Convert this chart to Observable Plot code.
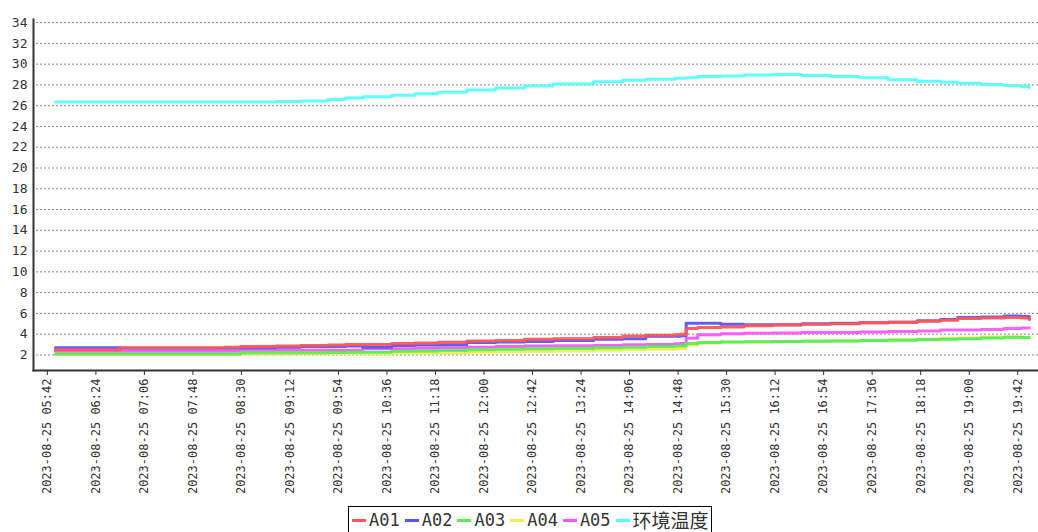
<!DOCTYPE html>
<html><head><meta charset="utf-8">
<script src="https://cdn.jsdelivr.net/npm/d3@7"></script>
<script src="https://cdn.jsdelivr.net/npm/@observablehq/plot@0.6"></script>
<style>
body{margin:0;background:#fff;width:1038px;height:532px;overflow:hidden;position:relative;}
#chart{position:absolute;left:0;top:0;}
#legend{position:absolute;left:348px;top:506px;height:34px;border:1px solid #000;display:flex;align-items:flex-start;padding:3px 2px 0 3px;box-sizing:border-box;background:#fff;}
.item{display:flex;align-items:center;margin-right:5px;height:20px;}
.item:last-child{margin-right:0;}
.sw{width:14px;height:3px;margin-right:3px;}
.lab{font-family:"DejaVu Sans Mono",monospace;font-size:17px;color:#333;line-height:20px;}
.lab.cjk{font-family:"Noto Sans CJK SC",sans-serif;font-size:19px;}
</style></head><body>
<div id="chart"></div><div id="legend"></div>
<script>
const day = "2023-08-25";
const times = ["05:49","06:15","06:45","07:15","07:45","08:15","08:29","09:00","09:21","09:45","10:00","10:15","10:40","11:00","11:20","11:45","12:10","12:35","13:00","13:35","14:00","14:20","14:45","14:50","14:55","15:05","15:25","15:45","16:10","16:35","17:00","17:25","17:50","18:15","18:35","18:50","19:10","19:30","19:45","19:52"];
const a01 = [2.5,2.5,2.7,2.7,2.7,2.75,2.8,2.85,2.9,2.95,3.0,3.0,3.1,3.15,3.23,3.33,3.4,3.5,3.55,3.67,3.82,3.9,3.95,4.0,4.55,4.65,4.7,4.8,4.88,4.95,5.0,5.1,5.15,5.25,5.35,5.5,5.55,5.6,5.55,5.4];
const a02 = [2.7,2.7,2.65,2.65,2.65,2.65,2.7,2.75,2.8,2.8,2.85,2.75,2.9,2.95,2.98,3.2,3.25,3.3,3.4,3.5,3.56,3.8,3.8,3.85,5.05,5.05,4.95,4.9,4.9,5.0,5.05,5.1,5.15,5.3,5.4,5.6,5.65,5.75,5.7,5.45];
const a03 = [2.1,2.1,2.1,2.1,2.1,2.1,2.2,2.2,2.22,2.24,2.25,2.25,2.35,2.38,2.42,2.5,2.55,2.6,2.63,2.68,2.74,2.8,2.85,2.87,3.1,3.2,3.25,3.28,3.3,3.32,3.35,3.38,3.42,3.48,3.52,3.55,3.62,3.7,3.68,3.65];
const a04 = [2.05,2.05,2.05,2.05,2.05,2.05,2.1,2.1,2.12,2.13,2.15,2.12,2.18,2.19,2.2,2.25,2.3,2.33,2.38,2.45,2.5,2.55,2.6,2.62,2.95,3.15,3.25,3.28,3.3,3.35,3.35,3.4,3.45,3.5,3.6,3.62,3.72,3.72,3.7,3.7];
const a05 = [2.35,2.35,2.35,2.35,2.35,2.35,2.45,2.45,2.45,2.45,2.45,2.59,2.6,2.65,2.68,2.75,2.8,2.85,2.88,2.9,2.98,3.0,3.07,3.1,3.6,3.95,4.05,4.08,4.1,4.15,4.15,4.2,4.25,4.3,4.4,4.4,4.45,4.55,4.6,4.62];
const env = [26.35,26.35,26.35,26.35,26.35,26.35,26.35,26.4,26.45,26.6,26.75,26.85,27.0,27.15,27.3,27.5,27.7,27.9,28.1,28.3,28.45,28.55,28.65,28.65,28.7,28.8,28.85,28.95,29.0,28.9,28.8,28.7,28.5,28.35,28.25,28.15,28.05,27.95,27.85,27.75];
const seriesNames = ["A01","A02","A03","A04","A05","环境温度"];
const seriesColors = ["#f55","#55f","#5e5","#ee5","#f5f","#5ff"];
const yTicks = [2,4,6,8,10,12,14,16,18,20,22,24,26,28,30,32,34];
const xTickLabels = ["05:42","06:24","07:06","07:48","08:30","09:12","09:54","10:36","11:18","12:00","12:42","13:24","14:06","14:48","15:30","16:12","16:54","17:36","18:18","19:00","19:42"];

const parse = t => new Date(`${day}T${t}:00`);
const seriesValues = [a01, a02, a03, a04, a05, env];
const rows = seriesNames.map((name, i) => times.map((t, j) => ({series: name, date: parse(t), value: seriesValues[i][j]})));
const fmt = d3.timeFormat("%Y-%m-%d\u00a0%H:%M");

const lineMarks = seriesNames.map((n, i) => i).reverse().map(i =>
  Plot.line(rows[i], {x: "date", y: "value", stroke: seriesColors[i], strokeWidth: 3, curve: "step-after", strokeOpacity: 0.95})
);

const chart = Plot.plot({
  width: 1038, height: 505,
  marginLeft: 33, marginRight: 0, marginTop: 19, marginBottom: 135,
  style: {fontFamily: "DejaVu Sans Mono, monospace", background: "transparent", color: "#333", overflow: "visible"},
  x: {type: "time", domain: [parse("05:30"), parse("20:00")], label: null},
  y: {domain: [0.5, 34.3], label: null},
  marks: [
    Plot.ruleY(yTicks, {stroke: "#8a8a8a", strokeDasharray: "2,2", strokeWidth: 1, insetLeft: 3}),
    Plot.axisY(yTicks, {tickSize: 0, tickPadding: 6, fontSize: 13, fill: "#333", label: null}),
    Plot.axisX(xTickLabels.map(parse), {tickSize: 5, tickRotate: -90, tickPadding: 3, fontSize: 12, fill: "#333", stroke: "#333", tickFormat: fmt, label: null}),
    ...lineMarks,
    Plot.frame({anchor: "left", stroke: "#333", strokeWidth: 2}),
    Plot.frame({anchor: "bottom", stroke: "#333", strokeWidth: 2})
  ]
});
document.getElementById("chart").appendChild(chart);

const legend = document.getElementById("legend");
seriesNames.forEach((n, i) => {
  const item = document.createElement("div");
  item.className = "item";
  const sw = document.createElement("span");
  sw.className = "sw";
  sw.style.background = seriesColors[i];
  const lab = document.createElement("span");
  lab.className = "lab" + (/[^\x00-\x7f]/.test(n) ? " cjk" : "");
  lab.textContent = n;
  item.appendChild(sw); item.appendChild(lab);
  legend.appendChild(item);
});
</script>
</body></html>
